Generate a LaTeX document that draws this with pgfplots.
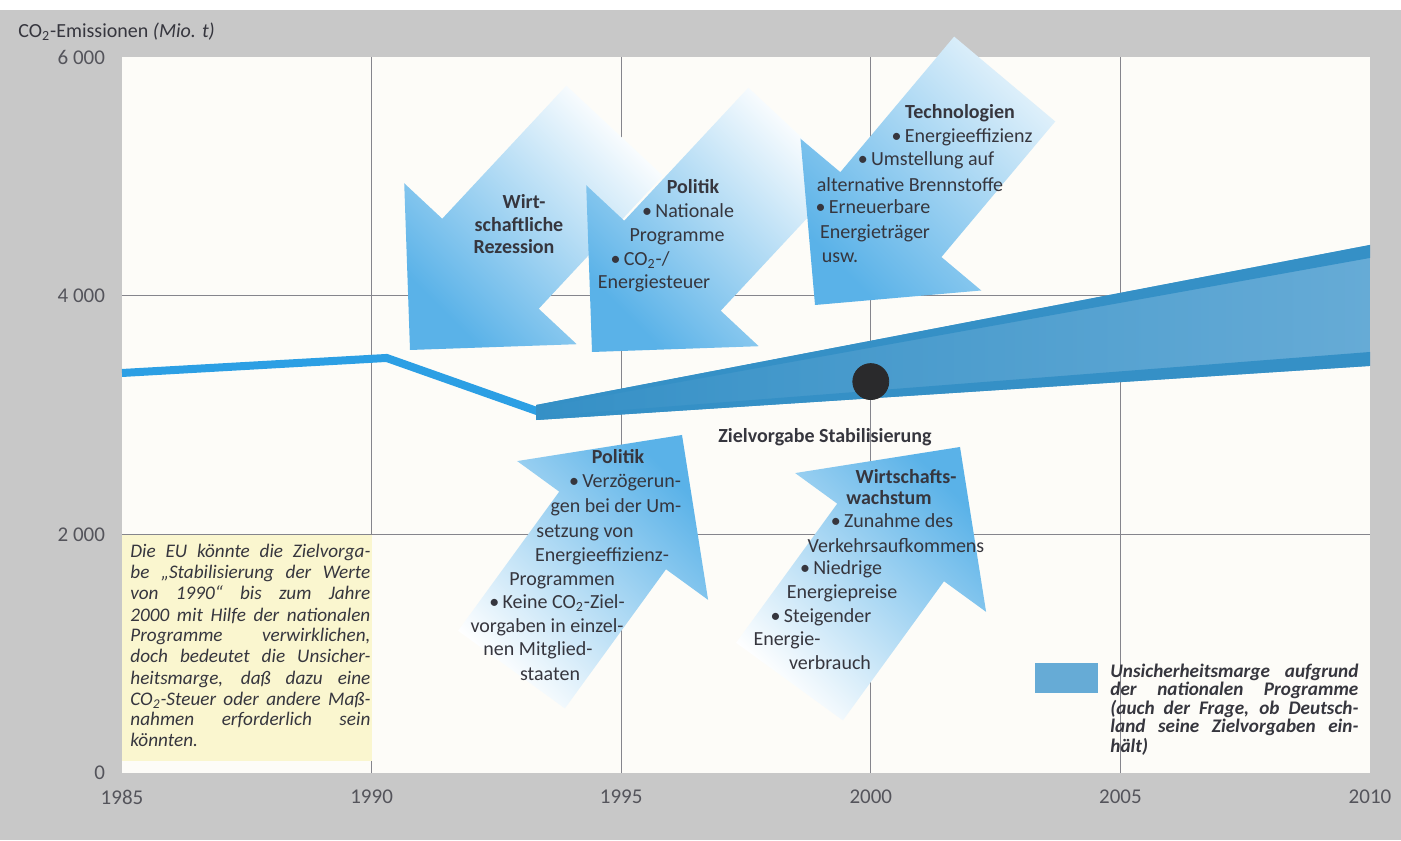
\documentclass[border=0pt]{standalone}
\usepackage{fontspec}
\setmainfont{Carlito}
\usepackage{pgfplots}
\pgfplotsset{compat=1.18}

\definecolor{bgGray}{HTML}{C8C8C8}
\definecolor{panel}{HTML}{FDFCF8}
\definecolor{gridGray}{HTML}{85858C}
\definecolor{lineBlue}{HTML}{2C9FE4}
\definecolor{bandLight}{HTML}{66ABD6}
\definecolor{bandDark}{HTML}{3590C6}
\definecolor{arrowBlue}{HTML}{5AB2E8}
\definecolor{arrowPale}{HTML}{FFFFFF}
\definecolor{ink}{HTML}{36363E}
\definecolor{noteYellow}{HTML}{FAF6CF}
\definecolor{dotInk}{HTML}{2A2A2C}

% pixel frame of the reference: 1 px = 0.5pt, y downwards
\tikzset{px/.style={x=0.5pt,y=-0.5pt,shift={(-61pt,386.5pt)}}}

% block arrow: tip x, tip y, unit vector tip->tail (ux,uy), tail length
\newcommand{\arrowpath}[5]{(#1,#2)
  -- ({#1+118*(#3)-118*(#4)},{#2+118*(#4)+118*(#3)})
  -- ({#1+118*(#3)-66*(#4)},{#2+118*(#4)+66*(#3)})
  -- ({#1+#5*(#3)-66*(#4)},{#2+#5*(#4)+66*(#3)})
  -- ({#1+#5*(#3)+66*(#4)},{#2+#5*(#4)-66*(#3)})
  -- ({#1+118*(#3)+66*(#4)},{#2+118*(#4)-66*(#3)})
  -- ({#1+118*(#3)+118*(#4)},{#2+118*(#4)-118*(#3)})
  -- cycle}

\newcommand{\tl}[3]{\node[anchor=base,inner sep=0pt] at (#1,{#2+6}) {#3};}
\newcommand{\bl}[3]{\node[anchor=base,inner sep=0pt,font=\fontsize{10}{12}\selectfont\bfseries] at (#1,{#2+6}) {#3};}
\newcommand{\dotb}{\textbullet\,}
\newcommand{\COz}{CO\textsubscript{2}}

\begin{document}
\begin{tikzpicture}
\begin{scope}[px]
  \path[use as bounding box] (0,0) rectangle (1401,840);
  \fill[white] (0,0) rectangle (1401,840);
  \fill[bgGray] (0,10) rectangle (1401,840);
\end{scope}

\begin{axis}[
  scale only axis,
  width=624pt, height=358pt,
  at={(0,0)}, anchor=south west,
  xmin=1985, xmax=2010, ymin=0, ymax=6000,
  axis line style={draw=none},
  axis background/.style={fill=panel},
  major tick length=0pt,
  xtick={1985,1990,1995,2000,2005,2010},
  xticklabels={1985,1990,1995,2000,2005,2010},
  ytick={0,2000,4000,6000},
  yticklabels={0,2 000,4 000,6 000},
  extra x ticks={1990,1995,2000,2005}, extra x tick labels={},
  extra y ticks={2000,4000}, extra y tick labels={},
  extra tick style={grid=major, major grid style={gridGray, line width=0.6pt}},
  tick label style={font=\fontsize{10.5}{12}\selectfont, text=ink!85},
  xticklabel style={yshift=-5pt},
  yticklabel style={xshift=-5pt},
]
% measured emissions
\addplot[lineBlue, line width=4pt] coordinates {(1985,3352) (1990.3,3478) (1993.4,3020)};
% uncertainty margin
\addplot[draw=none, left color=bandDark, right color=bandLight] coordinates {(1993.3,3084) (2010,4425) (2010,3411) (1993.3,2958)};
\addplot[draw=none, fill=bandDark] coordinates {(1993.3,3084) (2010,4425) (2010,4316) (1993.3,3060)};
\addplot[draw=none, fill=bandDark] coordinates {(1993.3,2958) (2010,3411) (2010,3528) (1993.3,2985)};
% target
\addplot[only marks, mark=*, mark size=9pt, mark options={fill=dotInk, draw=dotInk}] coordinates {(2000,3280)};
\end{axis}

\begin{scope}[px, every node/.style={text=ink, font=\fontsize{10}{12}\selectfont}]
  % arrows pointing down-left
  \shade[top color=arrowPale, bottom color=arrowBlue, shading angle=-45] \arrowpath{410}{350}{0.682}{-0.731}{300};
  \shade[top color=arrowPale, bottom color=arrowBlue, shading angle=-45] \arrowpath{592}{352}{0.682}{-0.731}{300};
  \shade[top color=arrowPale!82!arrowBlue, bottom color=arrowBlue, shading angle=-45] \arrowpath{815}{305}{0.643}{-0.766}{295};
  % arrows pointing up-right
  \shade[bottom color=arrowPale, top color=arrowBlue, shading angle=-45] \arrowpath{682}{435}{-0.588}{0.809}{290};
  \shade[bottom color=arrowPale, top color=arrowBlue, shading angle=-45] \arrowpath{960}{447}{-0.588}{0.809}{290};

  % axis title
  \node[anchor=west, inner sep=0pt] at (18,32) {\COz-Emissionen \textit{(Mio. t)}};

  % Wirtschaftliche Rezession
  \bl{524}{203}{Wirt-}
  \bl{519}{226}{schaftliche}
  \bl{514}{248}{Rezession}
  % Politik (oben)
  \bl{693}{188}{Politik}
  \tl{688}{212}{\dotb Nationale}
  \tl{677}{236}{Programme}
  \tl{640}{260}{\dotb\COz-/}
  \tl{654}{283}{Energiesteuer}
  % Technologien
  \bl{960}{113}{Technologien}
  \tl{962}{137}{\dotb Energieeffizienz}
  \tl{926}{160}{\dotb Umstellung auf}
  \tl{910}{186}{alternative Brennstoffe}
  \tl{873}{208}{\dotb Erneuerbare}
  \tl{875}{233}{Energieträger}
  \tl{840}{257}{usw.}
  % Politik (unten)
  \bl{618}{458}{Politik}
  \tl{625}{482}{\dotb Verzögerun-}
  \tl{616}{507}{gen bei der Um-}
  \tl{585}{532}{setzung von}
  \tl{602}{556}{Energieeffizienz-}
  \tl{562}{580}{Programmen}
  \tl{557}{603}{\dotb Keine \COz-Ziel-}
  \tl{547}{627}{vorgaben in einzel-}
  \tl{538}{650}{nen Mitglied-}
  \tl{550}{675}{staaten}
  % Wirtschaftswachstum
  \bl{906}{478}{Wirtschafts-}
  \bl{889}{499}{wachstum}
  \tl{892}{522}{\dotb Zunahme des}
  \tl{896}{547}{Verkehrsaufkommens}
  \tl{841}{569}{\dotb Niedrige}
  \tl{842}{593}{Energiepreise}
  \tl{821}{617}{\dotb Steigender}
  \tl{787}{640}{Energie-}
  \tl{830}{663}{verbrauch}
  % target label
  \bl{825}{437}{Zielvorgabe Stabilisierung}

  % note box
  \fill[noteYellow] (122,535) rectangle (372,761);
  \begin{scope}[every node/.style={text=ink, anchor=base west, inner sep=0pt, font=\fontsize{9.6}{10.5}\selectfont\itshape}]
    \node at (130,558) {\makebox[120pt][s]{Die EU könnte die Zielvorga-}};
    \node at (130,579) {\makebox[120pt][s]{be „Stabilisierung der Werte}};
    \node at (130,600) {\makebox[120pt][s]{von 1990“ bis zum Jahre}};
    \node at (130,622) {\makebox[120pt][s]{2000 mit Hilfe der nationalen}};
    \node at (130,642) {\makebox[120pt][s]{Programme verwirklichen,}};
    \node at (130,663) {\makebox[120pt][s]{doch bedeutet die Unsicher-}};
    \node at (130,684) {\makebox[120pt][s]{heitsmarge, daß dazu eine}};
    \node at (130,705) {\makebox[120pt][s]{\COz-Steuer oder andere Maß-}};
    \node at (130,726) {\makebox[120pt][s]{nahmen erforderlich sein}};
    \node at (130,747) {könnten.};
  \end{scope}

  % legend
  \fill[bandLight] (1035,663) rectangle (1098,693);
  \begin{scope}[every node/.style={text=ink, anchor=base west, inner sep=0pt, font=\fontsize{9.6}{10}\selectfont\bfseries\itshape}]
    \node at (1110,677) {\makebox[124pt][s]{Unsicherheitsmarge aufgrund}};
    \node at (1110,696) {\makebox[124pt][s]{der nationalen Programme}};
    \node at (1110,714) {\makebox[124pt][s]{(auch der Frage, ob Deutsch-}};
    \node at (1110,733) {\makebox[124pt][s]{land seine Zielvorgaben ein-}};
    \node at (1110,752) {hält)};
  \end{scope}
\end{scope}
\end{tikzpicture}
\end{document}
